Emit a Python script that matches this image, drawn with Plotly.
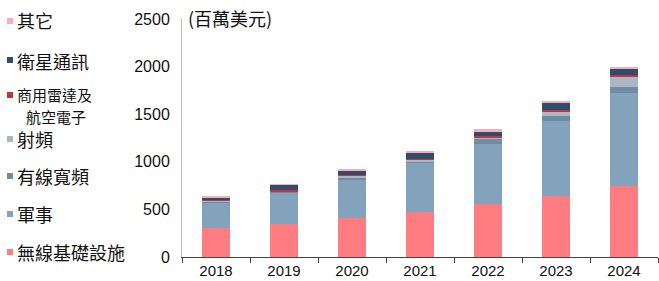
import plotly.graph_objects as go

# ---------------- data ----------------
years = ["2018", "2019", "2020", "2021", "2022", "2023", "2024"]
wireless_infra = [301, 347, 406, 476, 557, 644, 746]   # 無線基礎設施
military = [273, 326, 413, 508, 630, 785, 980]         # 軍事
wired_broadband = [8, 10, 20, 24, 49, 53, 63]          # 有線寬頻
rf_energy = [10, 7, 18, 16, 24, 45, 109]               # 射頻
radar_avionics = [5, 15, 5, 10, 14, 18, 14]            # 商用雷達及航空電子
satcom = [30, 55, 45, 60, 49, 79, 72]                  # 衛星通訊
others = [5, 5, 15, 10, 18, 8, 10]                     # 其它

series_names = ["無線基礎設施", "軍事", "有線寬頻", "射頻",
                "商用雷達及\n航空電子", "衛星通訊", "其它"]
series_values = [wireless_infra, military, wired_broadband, rf_energy,
                 radar_avionics, satcom, others]
y_ticks = [0, 500, 1000, 1500, 2000, 2500]
unit_label = "(百萬美元)"

# ---------------- styles ----------------
colors = ["#FF7C80", "#82A3BB", "#6F8DA2", "#AAB7C4", "#C4343C", "#2F4C6C", "#F3B0B6"]
W, H = 659, 281
L, R, T, B = 182, 1, 19, 24
CJK = "Noto Sans CJK TC"
LAT = "Liberation Sans, Arial, sans-serif"
LEG_FS = 18
LEG_FS_MULTI = 15

fig = go.Figure()
for name, vals, col in zip(series_names, series_values, colors):
    fig.add_trace(go.Bar(x=years, y=vals, name=name.replace("\n", ""),
                         marker=dict(color=col, line=dict(width=0)),
                         showlegend=False))

# legend drawn as text + small squares on the left (top -> bottom order)
plot_h = H - T - B
def py(p):  # pixel y -> paper y
    return (H - B - p) / plot_h
def px(p):  # pixel x -> paper x
    return (p - L) / (W - L - R)

legend_text_y = [20, 61, 94, 139, 176, 214, 252]
legend_mark_y = [21, 60, 95, 139, 176, 214, 252]
LINE_GAP = 22
TEXT_X = 16
order = list(range(len(series_names)))[::-1]
for k, i in enumerate(order):
    lines = series_names[i].split("\n")
    fs = LEG_FS if len(lines) == 1 else LEG_FS_MULTI
    first_w = len(lines[0]) * fs
    for j, line in enumerate(lines):
        if j == 0:
            xa, xpos = "left", TEXT_X
        else:
            xa, xpos = "center", TEXT_X + first_w / 2 + 2
        fig.add_annotation(x=px(xpos), y=py(legend_text_y[k] + j * LINE_GAP),
                           xref="paper", yref="paper", text=line, showarrow=False,
                           xanchor=xa, yanchor="middle", borderpad=0,
                           font=dict(family=CJK, size=fs, color="#111111"))
    fig.add_shape(type="rect", xref="paper", yref="paper",
                  x0=px(7), x1=px(13), y0=py(legend_mark_y[k] + 3), y1=py(legend_mark_y[k] - 3),
                  fillcolor=colors[i], line=dict(width=0), layer="above")

fig.add_annotation(x=px(186), y=py(18), xref="paper", yref="paper",
                   text=unit_label, showarrow=False, xanchor="left", yanchor="middle",
                   font=dict(family=CJK, size=18, color="#111111"))

fig.update_layout(
    width=W, height=H, barmode="stack", bargap=0.59,
    margin=dict(l=L, r=R, t=T, b=B),
    paper_bgcolor="white", plot_bgcolor="white",
    font=dict(family=LAT, size=15, color="#111111"),
    xaxis=dict(type="category", range=[-0.5, 6.5], showline=True, linecolor="#444444",
               linewidth=1, ticks="outside", tickson="boundaries", ticklen=5,
               tickcolor="#444444", showgrid=False, tickfont=dict(size=15)),
    yaxis=dict(range=[0, 2500], tickvals=y_ticks, showline=True, linecolor="#BBBBBB",
               linewidth=1, ticks="", showgrid=False, zeroline=False,
               ticklabelstandoff=8, tickfont=dict(size=16)),
)

fig.write_html("out.html")
